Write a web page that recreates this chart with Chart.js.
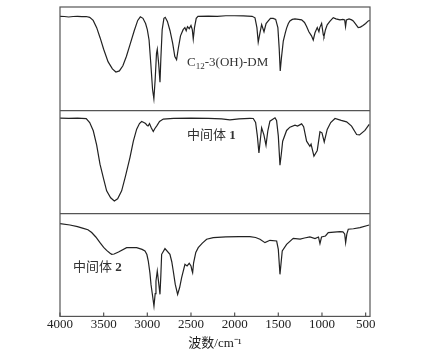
<!DOCTYPE html>
<html>
<head>
<meta charset="utf-8">
<script src="https://cdn.jsdelivr.net/npm/chart.js@4.4.1/dist/chart.umd.min.js"></script>
<style>
  body { margin: 0; background: #fff; }
</style>
</head>
<body>
<canvas id="irChart" width="435" height="359"></canvas>
<script>
// x axis ticks (wavenumber, cm-1)
const xTicks = [4000, 3500, 3000, 2500, 2000, 1500, 1000, 500];

// top panel: C12-3(OH)-DM
const wn1 = [4000,3950,3900,3850,3800,3750,3700,3660,3620,3580,3540,3500,3450,3400,3360,3320,3280,3240,3200,3150,3110,3080,3050,3020,3000,2980,2960,2940,2925,2910,2895,2886,2870,2855,2845,2830,2810,2795,2770,2740,2710,2685,2665,2645,2620,2590,2570,2555,2540,2520,2500,2485,2474,2460,2440,2420,2300,2200,2100,2000,1900,1800,1767,1745,1730,1710,1691,1664,1640,1615,1590,1558,1530,1505,1490,1478,1465,1443,1420,1405,1385,1367,1340,1309,1270,1233,1200,1176,1150,1120,1100,1080,1054,1035,1025,1004,985,977,960,940,910,871,840,794,760,740,730,720,690,660,642,610,585,560,530,500,470,450];
const t1 = [91,90.8,90.3,90.8,91,90.6,90.8,90,87,80,70,59,47,40,37,38,43,52,63,77,87,90.5,89,84,78,68,45,20,11,30,55,59,45,27,50,78,89,90,86,77,65,52,49,60,72,78,80,77,81,79,82,78,69,80,89,91,91.2,91,91.5,91.5,91.3,91,89.5,80,66,75,83,76,84,86.5,89,89,88,80,60,38,50,67,75,79.5,84,86.5,88,88.5,88,87.5,85,81,76,72,68,75,80,76,80,84,73,71.5,78,82.7,86,89.7,88.5,87.5,88,87.5,81,87.5,88.5,87.5,86.5,83,80,80.5,82,84,86.5,87];

// middle panel: 中间体 1
const wn2 = [4000,3900,3800,3700,3660,3619,3580,3542,3500,3466,3420,3378,3340,3294,3250,3199,3160,3122,3090,3065,3040,3020,3000,2989,2975,2955,2932,2915,2890,2860,2817,2700,2500,2300,2150,2054,1950,1825,1787,1760,1740,1722,1705,1691,1665,1641,1620,1596,1538,1520,1500,1481,1465,1450,1405,1367,1309,1280,1233,1210,1176,1138,1125,1092,1054,1023,1000,974,940,900,851,780,718,661,603,570,508,459];
const t2 = [92.2,92,92.3,91.8,88,80,66,47.6,33,21.7,15,11.9,14,21.7,36,54,70,81.6,87,89,88,87,85,84.8,87,83,79.3,82,85,89,91.3,92,92.2,92,91.5,90.6,91.5,92,91.9,88,75,58.5,72,82.8,76,66,80,89.3,92.5,90,75,46.6,58,69.9,80.3,83.5,85.4,84.5,86.7,84,69.9,65,67,55.3,60.9,79,78,69.2,81.3,88,91.9,90,88.6,84.5,76.4,76,80.3,86.1];

// bottom panel: 中间体 2
const wn3 = [4000,3886,3800,3733,3680,3637,3590,3542,3500,3466,3430,3408,3380,3330,3237,3122,3060,3027,3005,2989,2970,2958,2940,2924,2910,2901,2886,2872,2855,2845,2836,2798,2741,2720,2703,2680,2653,2630,2607,2569,2545,2520,2500,2490,2481,2470,2445,2417,2370,2321,2245,2100,1950,1825,1760,1710,1653,1596,1519,1500,1481,1468,1455,1405,1329,1250,1200,1138,1080,1040,1023,1005,960,928,794,760,740,729,715,699,640,565,459];
const t3 = [90,88.6,87,85.4,84,81.3,77,71.5,67,64,61.5,60.2,60.5,62.5,66.7,66.7,65,63.4,60,53.7,42,31,20,10,22,34.3,44,34,21.4,40,60.2,65.7,60.2,53,44,31,21.4,28,37.6,50.5,49,51.5,49,45,42.4,52,62,66.7,71,74.8,76.4,77.2,77.4,77.4,76.5,74.8,71.5,73.8,73.1,65,40.8,52,63.4,69.9,75.7,75,76,77,75.5,77,70.6,77,78,81.3,82.2,82,80,71.5,80,84.5,85,86.1,88.6];

const serif = '"Liberation Serif", "Noto Sans CJK SC"';

function toPoints(wn, t, offset) {
  return wn.map((w, i) => ({ x: w, y: t[i] + offset }));
}

// frame, inner tick marks and the panel labels
const framePlugin = {
  id: 'frame',
  afterDraw(chart) {
    const { ctx, chartArea: a, scales: { x, y } } = chart;
    ctx.save();
    ctx.strokeStyle = '#555';
    ctx.lineWidth = 1.2;
    ctx.strokeRect(a.left, a.top, a.right - a.left, a.bottom - a.top);
    ctx.beginPath();
    x.ticks.forEach(t => {
      const px = x.getPixelForValue(t.value);
      ctx.moveTo(px, a.bottom);
      ctx.lineTo(px, a.bottom - 4);
    });
    ctx.stroke();

    ctx.fillStyle = '#333';
    ctx.textBaseline = 'alphabetic';

    // C12-3(OH)-DM
    let px = x.getPixelForValue(2545), py = y.getPixelForValue(243);
    ctx.font = '13px ' + serif;
    ctx.fillText('C', px, py);
    px += ctx.measureText('C').width;
    ctx.font = '9px ' + serif;
    ctx.fillText('12', px, py + 3);
    px += ctx.measureText('12').width;
    ctx.font = '13px ' + serif;
    ctx.fillText('-3(OH)-DM', px, py);

    const drawInter = (num, wn, val) => {
      let qx = x.getPixelForValue(wn), qy = y.getPixelForValue(val);
      ctx.font = '13px ' + serif;
      ctx.fillText('中间体 ', qx, qy);
      qx += ctx.measureText('中间体 ').width;
      ctx.font = 'bold 13px ' + serif;
      ctx.fillText(num, qx, qy);
    };
    drawInter('1', 2545, 172.3);
    drawInter('2', 3851, 44);
    ctx.restore();
  }
};

const ctx = document.getElementById("irChart").getContext("2d");
new Chart(ctx, {
  type: 'line',
  data: {
    datasets: [
      { label: 'C12-3(OH)-DM', data: toPoints(wn1, t1, 200), borderColor: '#222' },
      { label: '中间体 1', data: toPoints(wn2, t2, 100), borderColor: '#222' },
      { label: '中间体 2', data: toPoints(wn3, t3, 0), borderColor: '#222' }
    ]
  },
  options: {
    responsive: false,
    animation: false,
    layout: { padding: { left: 60, right: 65, top: 7, bottom: 8 } },
    plugins: { legend: { display: false }, tooltip: { enabled: false } },
    elements: {
      point: { radius: 0 },
      line: { borderWidth: 1.2, tension: 0 }
    },
    scales: {
      x: {
        type: 'linear',
        reverse: true,
        min: 450,
        max: 4000,
        afterBuildTicks: s => { s.ticks = xTicks.map(v => ({ value: v })); },
        grid: { display: false, drawTicks: false },
        border: { display: false },
        ticks: {
          autoSkip: false,
          maxRotation: 0,
          padding: 2,
          color: '#222',
          font: { family: serif, size: 13, lineHeight: 1 },
          callback: v => String(v)
        },
        title: {
          display: true,
          text: '波数/cm⁻¹',
          color: '#222',
          font: { family: serif, size: 13 },
          padding: { top: 2, bottom: 0 }
        }
      },
      y: {
        min: 0,
        max: 300,
        afterBuildTicks: s => { s.ticks = [0, 100, 200, 300].map(v => ({ value: v })); },
        ticks: { display: false },
        border: { display: false },
        grid: {
          drawTicks: false,
          lineWidth: 1.2,
          color: c => (c.tick.value === 100 || c.tick.value === 200) ? '#555' : 'rgba(0,0,0,0)'
        }
      }
    }
  },
  plugins: [framePlugin]
});
</script>
</body>
</html>
